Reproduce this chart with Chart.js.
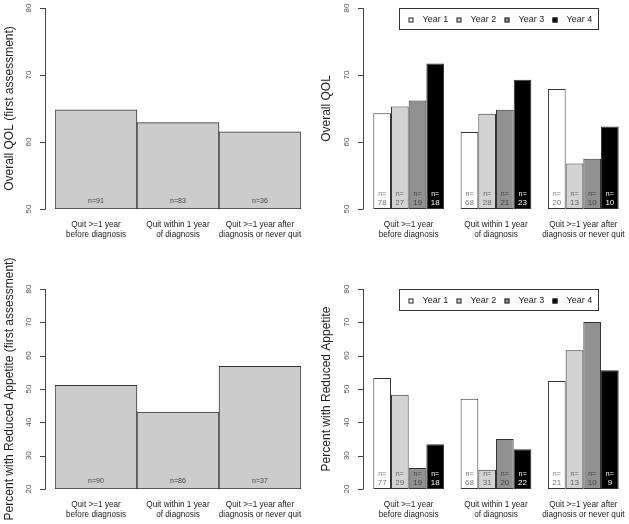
<!DOCTYPE html>
<html>
<head>
<meta charset="utf-8">
<script src="https://cdn.jsdelivr.net/npm/chart.js@4"></script>
<style>
  body { margin: 0; background: #fff; }
  #wrap { position: relative; width: 629px; height: 524px; overflow: hidden; }
  canvas { position: absolute; }
</style>
</head>
<body>
<div id="wrap">
  <canvas id="qolFirst" width="310" height="245" style="left:0;top:0"></canvas>
  <canvas id="qolYear" width="319" height="245" style="left:310px;top:0"></canvas>
  <canvas id="appFirst" width="310" height="279" style="left:0;top:245px"></canvas>
  <canvas id="appYear" width="319" height="279" style="left:310px;top:245px"></canvas>
</div>
<script>
const FONT = '"Liberation Sans", Arial, Helvetica, sans-serif';

const groups = [
    ["Quit >=1 year", "before diagnosis"],
    ["Quit within 1 year", "of diagnosis"],
    ["Quit >=1 year after", "diagnosis or never quit"]
];
const years = ["Year 1", "Year 2", "Year 3", "Year 4"];
const yearColors = ["#ffffff", "#d3d3d3", "#919191", "#000000"];
const yearTextColors = ["#777777", "#666666", "#444444", "#ffffff"];

// overall QOL, first assessment
const qolFirst = [64.8, 62.9, 61.5];
const qolFirstN = [91, 83, 36];

// overall QOL by year (one row per year, one value per group)
const qolYear = [
    [64.3, 61.5, 67.9],
    [65.3, 64.2, 56.8],
    [66.2, 64.8, 57.5],
    [71.7, 69.3, 62.3]
];
const qolYearN = [
    [78, 68, 20],
    [27, 28, 13],
    [19, 21, 10],
    [18, 23, 10]
];

// percent with reduced appetite, first assessment
const appFirst = [51.1, 43.1, 56.8];
const appFirstN = [90, 86, 37];

// percent with reduced appetite by year
const appYear = [
    [53.3, 47.1, 52.4],
    [48.3, 25.8, 61.6],
    [26.3, 35.0, 70.1],
    [33.4, 31.9, 55.6]
];
const appYearN = [
    [77, 68, 21],
    [29, 31, 13],
    [19, 20, 10],
    [18, 22, 9]
];

// draws R-like y axis, axis title, n= labels and the boxed legend
const rStyle = {
    id: "rStyle",
    afterDraw(chart, args, opts) {
        const c = chart.ctx;
        const area = chart.chartArea;
        const y = chart.scales.y;
        const ax = area.left - opts.axisOffset;

        c.save();
        c.strokeStyle = "#444";
        c.lineWidth = 1;
        c.beginPath();
        c.moveTo(ax + 0.5, y.getPixelForValue(y.max));
        c.lineTo(ax + 0.5, y.getPixelForValue(y.min));
        let ticks = y.ticks.map(t => t.value);
        if (!ticks.length) {
            for (let v = y.min; v <= y.max; v += 10) ticks.push(v);
        }
        ticks.forEach(v => {
            const py = Math.round(y.getPixelForValue(v)) + 0.5;
            c.moveTo(ax + 0.5, py);
            c.lineTo(ax - 5, py);
        });
        c.stroke();

        c.fillStyle = "#555";
        c.font = "8px " + FONT;
        c.textAlign = "center";
        c.textBaseline = "middle";
        ticks.forEach(v => {
            c.save();
            c.translate(ax - 16, y.getPixelForValue(v));
            c.rotate(-Math.PI / 2);
            c.fillText(String(v), 0, 0);
            c.restore();
        });

        // axis title
        c.save();
        c.fillStyle = "#222";
        c.font = "12px " + FONT;
        c.translate(opts.titleX, (area.top + area.bottom) / 2);
        c.rotate(-Math.PI / 2);
        c.fillText(opts.title, 0, 0);
        c.restore();

        // n labels inside the bars
        chart.data.datasets.forEach((ds, di) => {
            const meta = chart.getDatasetMeta(di);
            meta.data.forEach((bar, i) => {
                const n = opts.counts[di][i];
                c.fillStyle = opts.textColors[di];
                if (opts.twoLine) {
                    c.font = "7px " + FONT;
                    c.fillText("n=", bar.x, area.bottom - 15);
                    c.font = "8px " + FONT;
                    c.fillText(String(n), bar.x, area.bottom - 6);
                } else {
                    c.font = "7px " + FONT;
                    c.fillText("n=" + n, bar.x, area.bottom - 8);
                }
            });
        });

        // legend box
        if (opts.legend) {
            const bx = area.left + 34.5, by = area.top + 0.5, bw = 199, bh = 21;
            c.strokeStyle = "#333";
            c.strokeRect(bx, by, bw, bh);
            c.font = "9px " + FONT;
            c.textAlign = "left";
            chart.data.datasets.forEach((ds, di) => {
                const sx = bx + 9 + di * 48;
                const sy = by + bh / 2 + 1;
                c.fillStyle = ds.backgroundColor;
                c.fillRect(sx, sy - 2.5, 5, 5);
                c.strokeStyle = "#222";
                c.strokeRect(sx + 0.5, sy - 2, 4, 4);
                c.fillStyle = "#222";
                c.fillText(ds.label, sx + 14, sy);
            });
        }
        c.restore();
    }
};

function xScale() {
    return {
        grid: { display: false, drawTicks: false },
        border: { display: false },
        ticks: { font: { size: 8.2, family: FONT, lineHeight: 1.2 }, color: "#222", padding: 11, maxRotation: 0, autoSkip: false },
        afterFit: s => {
            s.height = 30;
            s.paddingLeft = 0;
            s.paddingRight = 0;
        }
    };
}

function makeChart(id, datasets, yMin, yMax, pad, styleOpts, catPct) {
    new Chart(document.getElementById(id), {
        type: "bar",
        data: { labels: groups, datasets: datasets },
        options: {
            responsive: false,
            animation: false,
            layout: { padding: pad },
            datasets: { bar: { categoryPercentage: catPct, barPercentage: 1, base: yMin, borderSkipped: false } },
            scales: {
                x: xScale(),
                y: { display: false, min: yMin, max: yMax, ticks: { stepSize: 10 } }
            },
            plugins: {
                legend: { display: false },
                tooltip: { enabled: false },
                rStyle: styleOpts
            }
        },
        plugins: [rStyle]
    });
}

function singleSet(values) {
    return [{ label: "first", data: values, backgroundColor: "#cccccc", borderColor: "#333", borderWidth: 1 }];
}

function yearSets(rows) {
    return rows.map((row, i) => ({
        label: years[i], data: row, backgroundColor: yearColors[i], borderColor: "#333", borderWidth: 1
    }));
}

makeChart("qolFirst", singleSet(qolFirst), 50, 80,
    { left: 55, right: 9, top: 8, bottom: 6 },
    { axisOffset: 10, titleX: 10, title: "Overall QOL (first assessment)", counts: [qolFirstN], textColors: ["#444"], twoLine: false },
    1);

makeChart("qolYear", yearSets(qolYear), 50, 80,
    { left: 55, right: 2, top: 8, bottom: 6 },
    { axisOffset: 2, titleX: 17, title: "Overall QOL", counts: qolYearN, textColors: yearTextColors, twoLine: true, legend: true },
    0.81);

makeChart("appFirst", singleSet(appFirst), 20, 80,
    { left: 55, right: 9, top: 44, bottom: 5 },
    { axisOffset: 10, titleX: 10, title: "Percent with Reduced Appetite (first assessment)", counts: [appFirstN], textColors: ["#444"], twoLine: false },
    1);

makeChart("appYear", yearSets(appYear), 20, 80,
    { left: 55, right: 2, top: 44, bottom: 5 },
    { axisOffset: 2, titleX: 17, title: "Percent with Reduced Appetite", counts: appYearN, textColors: yearTextColors, twoLine: true, legend: true },
    0.81);
</script>
</body>
</html>
